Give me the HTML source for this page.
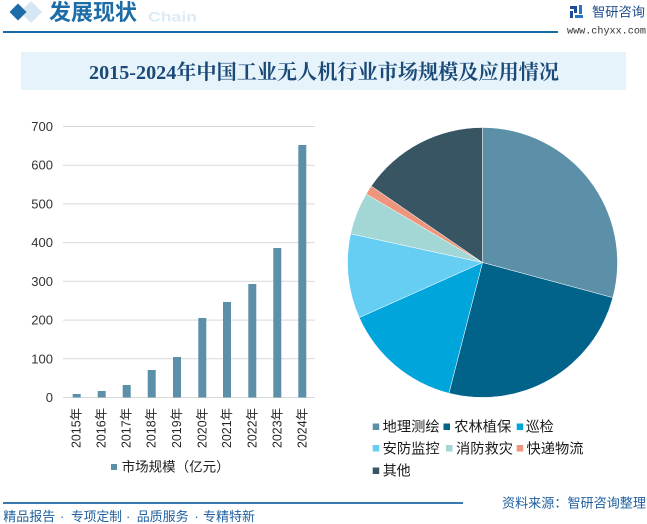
<!DOCTYPE html>
<html>
<head>
<meta charset="utf-8">
<style>
  html,body{margin:0;padding:0;background:#ffffff;}
  body{width:647px;height:524px;overflow:hidden;position:relative;}
  svg{position:absolute;left:0;top:0;}
</style>
</head>
<body>
<svg width="647" height="524" viewBox="0 0 647 524" xmlns="http://www.w3.org/2000/svg">
  <!-- Header -->
  <polygon points="31,1 42,12 31,23 20,12" fill="#d6e7f3"/>
  <polygon points="18,3.5 26.5,12 18,20.5 9.5,12" fill="#1c6ca8"/>
  <text x="148" y="21.5" font-family="Liberation Sans, sans-serif" font-weight="bold" font-size="14" fill="#dcebf6" textLength="49" lengthAdjust="spacingAndGlyphs">Chain</text>
  <text x="49" y="12.5" dominant-baseline="central" font-family="Liberation Sans, Noto Sans CJK SC, sans-serif" font-weight="bold" font-size="22" fill="#1c6ca8" textLength="88" lengthAdjust="spacingAndGlyphs">发展现状</text>
  <rect x="3" y="31" width="555" height="2" fill="#1a6aa6"/>

  <!-- Logo -->
  <rect x="570" y="6" width="7" height="3" fill="#1e4e9a"/>
  <rect x="574" y="6" width="3" height="7" fill="#1e4e9a"/>
  <rect x="570" y="11" width="3" height="7" fill="#1e4e9a"/>
  <rect x="579" y="5" width="3" height="9" fill="#2a73c0"/>
  <rect x="575" y="15" width="8" height="3" fill="#2a73c0"/>
  <text x="592" y="12" dominant-baseline="central" font-family="Liberation Sans, Noto Sans CJK SC, sans-serif" font-size="13.3" fill="#1e4e8a" textLength="53" lengthAdjust="spacingAndGlyphs">智研咨询</text>
  <text x="567" y="32" dominant-baseline="central" font-family="Liberation Mono, monospace" font-size="10.2" fill="#333" textLength="79" lengthAdjust="spacingAndGlyphs">www.chyxx.com</text>

  <!-- Title box -->
  <rect x="21" y="52" width="605" height="38" fill="#e6f3fb"/>
  <text x="89" y="73" dominant-baseline="central" font-family="Liberation Serif, Noto Serif CJK SC, serif" font-weight="bold" font-size="20.5" fill="#1b4a78" textLength="470" lengthAdjust="spacingAndGlyphs">2015-2024年中国工业无人机行业市场规模及应用情况</text>

  <!-- Bar chart gridlines -->
  <g stroke="#d9d9d9" stroke-width="1">
    <line x1="63" x2="315" y1="126.5" y2="126.5"/>
    <line x1="63" x2="315" y1="165.2" y2="165.2"/>
    <line x1="63" x2="315" y1="203.9" y2="203.9"/>
    <line x1="63" x2="315" y1="242.6" y2="242.6"/>
    <line x1="63" x2="315" y1="281.3" y2="281.3"/>
    <line x1="63" x2="315" y1="320.1" y2="320.1"/>
    <line x1="63" x2="315" y1="358.8" y2="358.8"/>
    <line x1="63" x2="315" y1="397.5" y2="397.5"/>
  </g>
  <g font-family="Liberation Sans, sans-serif" font-size="13" fill="#333333" text-anchor="end" dominant-baseline="central">
    <text x="53" y="126.5">700</text>
    <text x="53" y="165.2">600</text>
    <text x="53" y="203.9">500</text>
    <text x="53" y="242.6">400</text>
    <text x="53" y="281.3">300</text>
    <text x="53" y="320.1">200</text>
    <text x="53" y="358.8">100</text>
    <text x="53" y="397.5">0</text>
  </g>
  <!-- Bars -->
  <g fill="#5b90a8">
    <rect x="72.7" y="394" width="8" height="3.5"/>
    <rect x="97.7" y="391" width="8" height="6.5"/>
    <rect x="122.7" y="385" width="8" height="12.5"/>
    <rect x="147.7" y="370" width="8" height="27.5"/>
    <rect x="173" y="357" width="8" height="40.5"/>
    <rect x="198.3" y="318" width="8" height="79.5"/>
    <rect x="223" y="302" width="8" height="95.5"/>
    <rect x="248.3" y="284" width="8" height="113.5"/>
    <rect x="273.3" y="248" width="8" height="149.5"/>
    <rect x="298.3" y="145" width="8" height="252.5"/>
  </g>
  <!-- X labels -->
  <g font-family="Liberation Sans, Noto Sans CJK SC, sans-serif" font-size="12.5" fill="#262626" text-anchor="end" dominant-baseline="central">
    <text transform="translate(76.7,408) rotate(-90)" textLength="40" lengthAdjust="spacingAndGlyphs">2015年</text>
    <text transform="translate(101.7,408) rotate(-90)" textLength="40" lengthAdjust="spacingAndGlyphs">2016年</text>
    <text transform="translate(126.7,408) rotate(-90)" textLength="40" lengthAdjust="spacingAndGlyphs">2017年</text>
    <text transform="translate(151.7,408) rotate(-90)" textLength="40" lengthAdjust="spacingAndGlyphs">2018年</text>
    <text transform="translate(177,408) rotate(-90)" textLength="40" lengthAdjust="spacingAndGlyphs">2019年</text>
    <text transform="translate(202.3,408) rotate(-90)" textLength="40" lengthAdjust="spacingAndGlyphs">2020年</text>
    <text transform="translate(227,408) rotate(-90)" textLength="40" lengthAdjust="spacingAndGlyphs">2021年</text>
    <text transform="translate(252.3,408) rotate(-90)" textLength="40" lengthAdjust="spacingAndGlyphs">2022年</text>
    <text transform="translate(277.3,408) rotate(-90)" textLength="40" lengthAdjust="spacingAndGlyphs">2023年</text>
    <text transform="translate(302.3,408) rotate(-90)" textLength="40" lengthAdjust="spacingAndGlyphs">2024年</text>
  </g>
  <!-- Bar legend -->
  <rect x="111" y="464" width="6" height="6" fill="#5b90a8"/>
  <text x="121.7" y="467" dominant-baseline="central" font-family="Liberation Sans, Noto Sans CJK SC, sans-serif" font-size="13.5" fill="#222" textLength="108" lengthAdjust="spacingAndGlyphs">市场规模（亿元）</text>

  <!-- Pie -->
  <g stroke="#ffffff" stroke-width="0.5">
    <path d="M482.5,262.5 L482.5,127.5 A135,135 0 0 1 612.84,297.67 Z" fill="#5b90a8"/>
    <path d="M482.5,262.5 L612.84,297.67 A135,135 0 0 1 448.93,393.26 Z" fill="#01628a"/>
    <path d="M482.5,262.5 L448.93,393.26 A135,135 0 0 1 359.27,317.62 Z" fill="#00a5db"/>
    <path d="M482.5,262.5 L359.27,317.62 A135,135 0 0 1 350.6,233.74 Z" fill="#67cef3"/>
    <path d="M482.5,262.5 L350.6,233.74 A135,135 0 0 1 366.18,193.99 Z" fill="#a2d7d5"/>
    <path d="M482.5,262.5 L366.18,193.99 A135,135 0 0 1 371.25,186.04 Z" fill="#ee957c"/>
    <path d="M482.5,262.5 L371.25,186.04 A135,135 0 0 1 482.5,127.5 Z" fill="#375563"/>
  </g>

  <!-- Pie legend -->
  <g font-family="Liberation Sans, Noto Sans CJK SC, sans-serif" font-size="14" fill="#1a1a1a" dominant-baseline="central">
    <rect x="372.7" y="423.5" width="6.5" height="6.5" fill="#5b90a8"/>
    <text x="382.7" y="426.7" textLength="57" lengthAdjust="spacingAndGlyphs">地理测绘</text>
    <rect x="443.5" y="423.5" width="6.5" height="6.5" fill="#01628a"/>
    <text x="454.3" y="426.7" textLength="57" lengthAdjust="spacingAndGlyphs">农林植保</text>
    <rect x="516.7" y="423.5" width="6.5" height="6.5" fill="#00a5db"/>
    <text x="525.7" y="426.7" textLength="28" lengthAdjust="spacingAndGlyphs">巡检</text>

    <rect x="372.7" y="445" width="6.5" height="6.5" fill="#67cef3"/>
    <text x="382.7" y="448.3" textLength="57" lengthAdjust="spacingAndGlyphs">安防监控</text>
    <rect x="446" y="445" width="6.5" height="6.5" fill="#a2d7d5"/>
    <text x="456" y="448.3" textLength="57" lengthAdjust="spacingAndGlyphs">消防救灾</text>
    <rect x="516.7" y="445" width="6.5" height="6.5" fill="#ee957c"/>
    <text x="526.5" y="448.3" textLength="57" lengthAdjust="spacingAndGlyphs">快递物流</text>

    <rect x="372.7" y="467.5" width="6.5" height="6.5" fill="#375563"/>
    <text x="382.7" y="470.7" textLength="28" lengthAdjust="spacingAndGlyphs">其他</text>
  </g>

  <!-- Footer -->
  <rect x="3" y="502" width="460" height="2" fill="#3a78b0"/>
  <text x="502" y="503" dominant-baseline="central" font-family="Liberation Sans, Noto Sans CJK SC, sans-serif" font-size="13" fill="#1f5f9e" textLength="144" lengthAdjust="spacingAndGlyphs">资料来源：智研咨询整理</text>
  <g font-family="Liberation Sans, Noto Sans CJK SC, sans-serif" font-size="13" fill="#1f5f9e" dominant-baseline="central">
    <text x="3.3" y="516.5" textLength="52" lengthAdjust="spacingAndGlyphs">精品报告</text>
    <text x="60" y="516.5">·</text>
    <text x="71" y="516.5" textLength="51" lengthAdjust="spacingAndGlyphs">专项定制</text>
    <text x="126" y="516.5">·</text>
    <text x="136.7" y="516.5" textLength="52" lengthAdjust="spacingAndGlyphs">品质服务</text>
    <text x="194.5" y="516.5">·</text>
    <text x="203" y="516.5" textLength="52" lengthAdjust="spacingAndGlyphs">专精特新</text>
  </g>
</svg>
</body>
</html>
